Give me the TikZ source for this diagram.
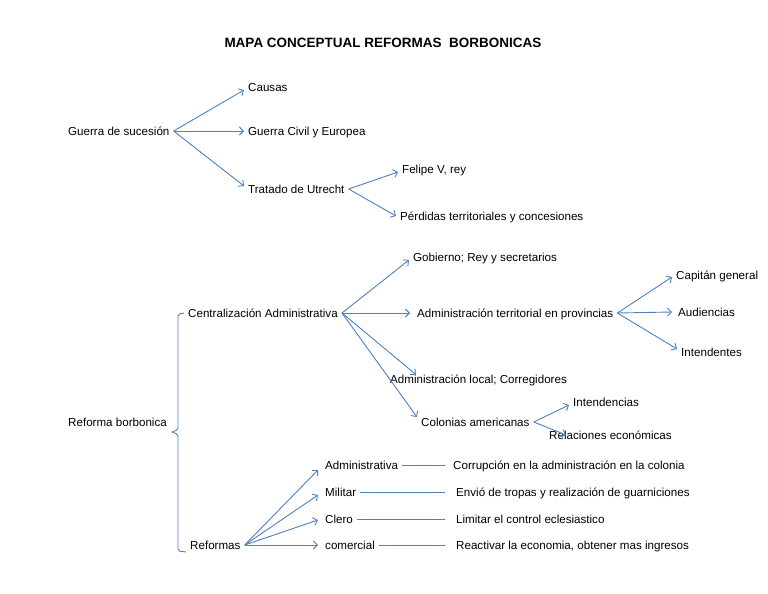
\documentclass[tikz,border=0pt]{standalone}
\usepackage{fontspec}
\setmainfont{Liberation Sans}
\usetikzlibrary{arrows.meta}
\definecolor{mapblue}{RGB}{79,129,189}

\begin{document}
\begin{tikzpicture}[x=1pt,y=-1pt,>={Straight Barb[length=4pt,width=8pt]},
	every node/.style={anchor=west, inner xsep=4pt, inner ysep=2pt, text height=8.4pt, text depth=0pt, font=\fontsize{11.6}{13}\selectfont},
	conn/.style={mapblue, line width=0.9pt}]
	\useasboundingbox (0,0) rectangle (768,594);

	\node[anchor=center, font=\bfseries\fontsize{13.5}{15}\selectfont] (title) at (383,43) {MAPA CONCEPTUAL REFORMAS~ BORBONICAS};

	%% ========================================================
	\node (gs) at (64,131) {Guerra de sucesión};
	\node (causas) at (244,87) {Causas};
	\node (civil) at (244,131) {Guerra Civil y Europea};
	\node (utrecht) at (244,189) {Tratado de Utrecht};
	\node (felipe) at (398,169) {Felipe V, rey};
	\node (perdidas) at (396,216) {Pérdidas territoriales y concesiones};

	\draw[conn,->] (gs.east) -- ([yshift=-3pt]causas.west);
	\draw[conn,->] (gs.east) -- (civil.west);
	\draw[conn,->] (gs.east) -- ([yshift=3pt]utrecht.west);
	\draw[conn,->] (utrecht.east) -- ([yshift=-3pt]felipe.west);
	\draw[conn,->] (utrecht.east) -- (perdidas.west);
	%% ========================================================

	%% ========================================================
	\node (rb) at (64,422) {Reforma borbonica};
	\node (cent) at (184,313) {Centralización Administrativa};
	\node (ref) at (186,545) {Reformas};

	% brace
	\draw[conn, rounded corners=2pt] (cent.west) -- (178,314) -- (178,430) -- ([yshift=-10pt]rb.east) -- (178,434) -- (178,551) -- ([yshift=-7pt]ref.west);

	\node (gob) at (409,257) {Gobierno; Rey y secretarios};
	\node (terr) at (413,313) {Administración territorial en provincias};
	\node (local) at (386,379) {Administración local; Corregidores};
	\node (colon) at (417,422) {Colonias americanas};

	\draw[conn,->] (cent.east) -- ([yshift=-3pt]gob.west);
	\draw[conn,->] (cent.east) -- ([xshift=-3pt]terr.west);
	\draw[conn,->] (cent.east) -- ([xshift=30pt,yshift=-2pt]local.north west);
	\draw[conn,->] (cent.east) -- ([yshift=5pt]colon.west);

	\node (capit) at (672,275) {Capitán general};
	\node (audi) at (674,312) {Audiencias};
	\node (intes) at (677,352) {Intendentes};

	\draw[conn,->] (terr.east) -- ([yshift=-2pt]capit.west);
	\draw[conn,->] (terr.east) -- ([xshift=-2pt]audi.west);
	\draw[conn,->] (terr.east) -- ([yshift=3pt]intes.west);

	\node (intcia) at (569,402) {Intendencias};
	\node (relac) at (545,435) {Relaciones económicas};

	\draw[conn,->] (colon.east) -- ([yshift=-3pt]intcia.west);
	\draw[conn,->] (colon.east) -- ([xshift=21pt]relac.west);
	%% ========================================================

	%% ========================================================
	\node (adm) at (321,465) {Administrativa};
	\node (mil) at (321,492) {Militar};
	\node (clero) at (321,519) {Clero};
	\node (com) at (321,545) {comercial};

	\draw[conn,->] (ref.east) -- ([xshift=-3pt,yshift=-5pt]adm.west);
	\draw[conn,->] (ref.east) -- ([xshift=-3pt,yshift=-3pt]mil.west);
	\draw[conn,->] (ref.east) -- ([xshift=-3pt,yshift=-1pt]clero.west);
	\draw[conn,->] (ref.east) -- ([xshift=-3pt]com.west);

	\node (corr) at (449,465) {Corrupción en la administración en la colonia};
	\node (tropas) at (452,492) {Envió de tropas y realización de guarniciones};
	\node (ecles) at (452,519) {Limitar el control eclesiastico};
	\node (econ) at (452,545) {Reactivar la economia, obtener mas ingresos};

	\draw[conn] (adm.east) -- ([xshift=-4pt]corr.west);
	\draw[conn] (mil.east) -- ([xshift=-7pt]tropas.west);
	\draw[conn] (clero.east) -- ([xshift=-7pt]ecles.west);
	\draw[conn] (com.east) -- ([xshift=-7pt]econ.west);
	%% ========================================================
\end{tikzpicture}
\end{document}
